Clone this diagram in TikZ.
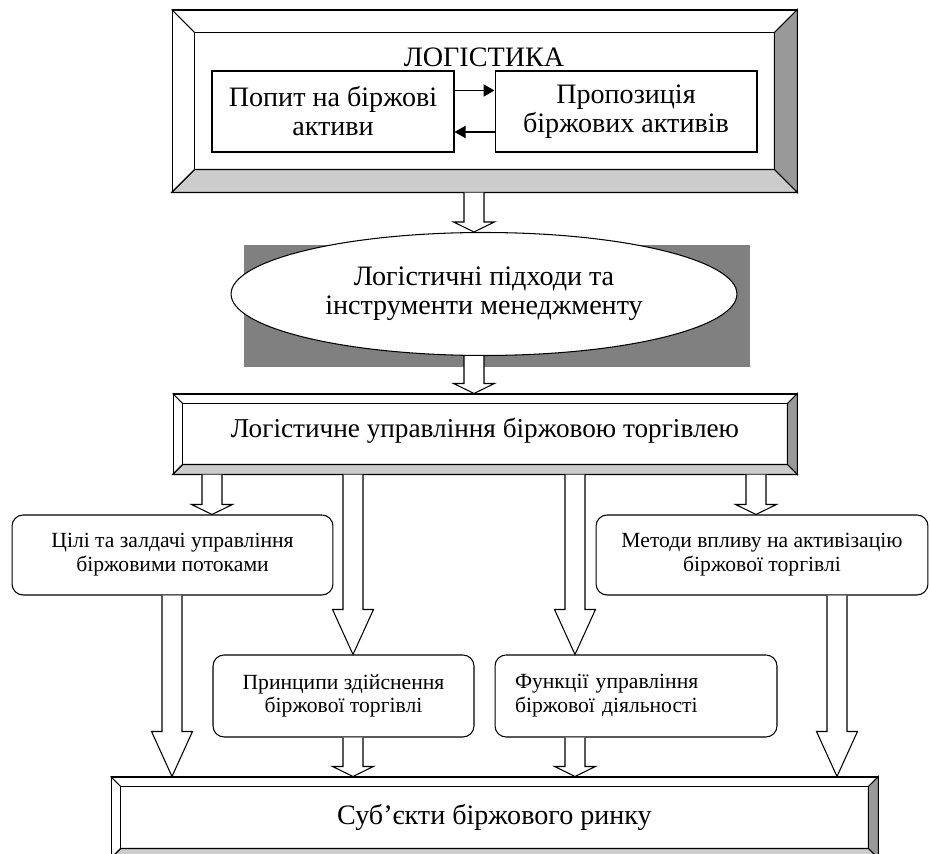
\documentclass[tikz,border=0pt]{standalone}
\usepackage{fontspec}
\setmainfont{Liberation Serif}
\usetikzlibrary{arrows.meta,calc,shapes.geometric,positioning}

\definecolor{bevdark}{HTML}{999999}
\definecolor{bevlight}{HTML}{CCCCCC}
\definecolor{shadowgray}{HTML}{808080}

\newcommand\bevel[2]{%
  \coordinate (#1-a) at ([shift={(#2,#2)}]#1.north west);
  \coordinate (#1-b) at ([shift={(-#2,#2)}]#1.north east);
  \coordinate (#1-c) at ([shift={(-#2,-#2)}]#1.south east);
  \coordinate (#1-d) at ([shift={(#2,-#2)}]#1.south west);
  \draw[fill=bevdark] (#1.north east) -- (#1.south east) -- (#1-c) -- (#1-b) -- cycle;
  \draw[fill=bevlight] (#1.south west) -- (#1.south east) -- (#1-c) -- (#1-d) -- cycle;
  \draw (#1.north west) -- (#1-a) (#1.south west) -- (#1-d);
  \draw (#1-a) rectangle (#1-c);
}

\newcommand\barrow[4]{%
  \draw[fill=white] let \p1=(#2.south -| #1,0), \p2=(#3.north -| #1,0) in
    (\x1-0.2cm,\y1) -- (\x1-0.2cm,\y2+#4) -- (\x1-0.41cm,\y2+#4) -- (\x1,\y2)
    -- (\x1+0.41cm,\y2+#4) -- (\x1+0.2cm,\y2+#4) -- (\x1+0.2cm,\y1);
}

\begin{document}
\begin{tikzpicture}
	[x=0.02cm, y=-0.02cm, line width=0.6pt, >={Triangle[length=2.2mm,width=2.4mm]},
	 big/.style = {font=\fontsize{16}{16.5}\selectfont, align=center},
	 small/.style = {font=\fontsize{12.3}{13.5}\selectfont, align=center},
	 frame/.style = {draw, rectangle, inner sep=0pt},
	 soft/.style = {draw, rectangle, rounded corners=0.22cm, inner sep=0pt, small}]
\useasboundingbox (0,0) rectangle (931,854);
\clip (0,0) rectangle (931,854);

\node[frame, minimum width=12.5cm, minimum height=3.64cm](top) at (484.5,101) {};
\bevel{top}{23}
\node[big](logo) at (484,57) {ЛОГІСТИКА};
\node[frame, big, minimum width=4.84cm, minimum height=1.62cm](dem) at (333,111.5) {Попит на біржові\\активи};
\node[frame, big, minimum width=5.24cm, minimum height=1.62cm](sup) at (626,111.5) {Пропозиція\\біржових активів};
\draw[->, line width=1.1pt] ([yshift=0.42cm]dem.east) -- ([yshift=0.42cm]sup.west);
\draw[->, line width=1.1pt] ([yshift=-0.41cm]sup.west) -- ([yshift=-0.41cm]dem.east);

\fill[shadowgray] (244,245) rectangle (750,367);
\node[draw, ellipse, fill=white, big, inner sep=0pt, minimum width=10.12cm, minimum height=2.46cm](ell) at (484,294) {Логістичні підходи та\\інструменти менеджменту};

\node[frame, minimum width=12.48cm, minimum height=1.6cm](mid) at (485,434) {};
\bevel{mid}{10}
\node[font=\fontsize{15.5}{16}\selectfont] at ([yshift=0.06cm]mid.center) {Логістичне управління біржовою торгівлею};

\node[soft, minimum width=6.42cm, minimum height=1.6cm](goal) at (172.5,555) {Цілі та залдачі управління\\біржовими потоками};
\node[soft, minimum width=6.64cm, minimum height=1.6cm](meth) at (762,555) {Методи впливу на активізацію\\біржової торгівлі};
\node[soft, minimum width=5.22cm, minimum height=1.64cm](prin) at (343.5,696) {Принципи здійснення\\біржової торгівлі};
\node[soft, align=left, text width=4.84cm, inner xsep=0.4cm, minimum height=1.64cm](func) at (636,696) {Функції управління\\біржової діяльності};

\node[frame, minimum width=15.34cm, minimum height=1.62cm](subj) at (494.5,817.5) {};
\bevel{subj}{10}
\node[big] at (subj.center) {Суб’єкти біржового ринку};

\barrow{474}{top}{ell}{0.2cm}
\barrow{474}{ell}{mid}{0.2cm}
\barrow{212}{mid}{goal}{0.2cm}
\barrow{353}{mid}{prin}{0.9cm}
\barrow{575}{mid}{func}{0.9cm}
\barrow{756}{mid}{meth}{0.2cm}
\barrow{172}{goal}{subj}{0.9cm}
\barrow{353}{prin}{subj}{0.2cm}
\barrow{575}{func}{subj}{0.2cm}
\barrow{837}{meth}{subj}{0.9cm}
\end{tikzpicture}
\end{document}
